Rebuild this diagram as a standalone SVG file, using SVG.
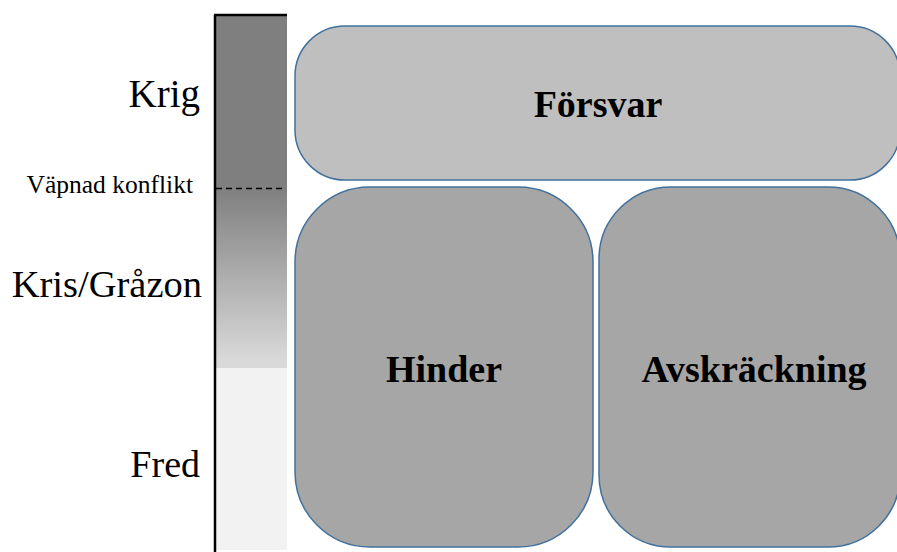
<svg xmlns="http://www.w3.org/2000/svg" width="897" height="552" viewBox="0 0 897 552">
<defs>
<linearGradient id="grad" x1="0" y1="0" x2="0" y2="1">
<stop offset="0" stop-color="#7f7f7f"/>
<stop offset="1" stop-color="#d9d9d9"/>
</linearGradient>
</defs>
<style>
.lbl{font-family:"Liberation Serif","Times New Roman",serif;font-size:38px;fill:#000;text-anchor:end}
.box{stroke:#41719c;stroke-width:1.5}
.bt{font-family:"Liberation Serif","Times New Roman",serif;font-size:38px;font-weight:bold;fill:#000;text-anchor:middle}
</style>
<rect width="897" height="552" fill="#fff"/>
<g id="scale">
<rect x="216" y="15" width="71" height="173" fill="#7f7f7f"/>
<rect x="216" y="188" width="71" height="172" fill="url(#grad)"/>
<rect x="216" y="360" width="71" height="8" fill="#d9d9d9"/>
<rect x="216" y="368" width="71" height="182" fill="#f2f2f2"/>
<line x1="215" y1="15" x2="215" y2="552" stroke="#000" stroke-width="2.5"/>
<line x1="214" y1="15" x2="287" y2="15" stroke="#000" stroke-width="2.5"/>
<line x1="216" y1="188.5" x2="284" y2="188.5" stroke="#000" stroke-width="1.5" stroke-dasharray="6,4"/>
</g>
<g id="labels">
<text class="lbl" x="200" y="107" style="font-size:39px">Krig</text>
<text class="lbl" x="193" y="193" style="font-size:25.5px">Väpnad konflikt</text>
<text class="lbl" x="202" y="297" style="font-size:38.5px">Kris/Gråzon</text>
<text class="lbl" x="200" y="477">Fred</text>
</g>
<g id="forsvar">
<rect class="box" x="295" y="26" width="605" height="154" rx="50" ry="50" fill="#bfbfbf"/>
<text class="bt" x="598" y="117">Försvar</text>
</g>
<g id="hinder">
<rect class="box" x="295" y="187" width="298" height="360" rx="75" ry="75" fill="#a6a6a6"/>
<text class="bt" x="444" y="382">Hinder</text>
</g>
<g id="avskrackning">
<rect class="box" x="599" y="187" width="301" height="360" rx="72" ry="72" fill="#a6a6a6"/>
<text class="bt" x="754" y="382">Avskräckning</text>
</g>
<g id="connectors"/>
</svg>
